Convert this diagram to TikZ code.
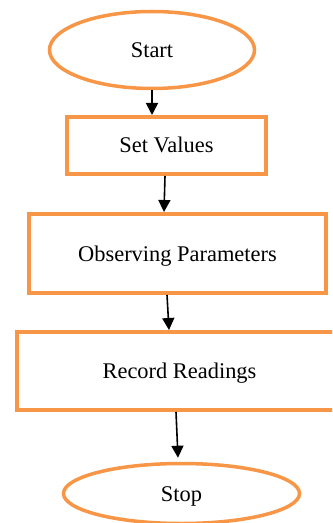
\documentclass[tikz,border=0pt]{standalone}
\usepackage{fontspec}
\setmainfont{Liberation Serif}
\usetikzlibrary{shapes.geometric,arrows.meta}
\definecolor{flow}{HTML}{F79646}
\begin{document}
\begin{tikzpicture}[x=1bp,y=-1bp,
  every node/.style={font=\fontsize{22.5}{27}\selectfont, inner sep=0pt, text height=15bp, text depth=0pt},
  term/.style={ellipse, draw=flow, line width=3.5bp},
  proc/.style={rectangle, draw=flow, line width=4bp},
  link/.style={draw=black, line width=1.6bp, -{Triangle[length=12bp,width=12bp]}}]
\useasboundingbox (0,0) rectangle (332,523);
\clip (0,0) rectangle (332,523);
\node[term, minimum width=205bp, minimum height=77bp] (start) at (152,50) {Start};
\node[proc, minimum width=199bp, minimum height=57bp] (sv) at (166.5,145.5) {Set Values};
\node[proc, minimum width=297bp, minimum height=79bp] (obs) at (177.5,253.5) {Observing Parameters};
\node[proc, minimum width=325bp, minimum height=78bp] (rec) at (179.5,371) {Record Readings};
\node[term, minimum width=236bp, minimum height=60bp] (stop) at (181.5,493.5) {Stop};
\draw[link] (start.south) -- ([xshift=-14.5bp]sv.north);
\draw[link] ([xshift=-1.5bp]sv.south) -- ([xshift=-13.5bp]obs.north);
\draw[link] ([xshift=-10.5bp]obs.south) -- ([xshift=-10.5bp]rec.north);
\draw[link] ([xshift=-3.5bp]rec.south) -- ([xshift=-3.5bp,yshift=4bp]stop.north);
\end{tikzpicture}
\end{document}
